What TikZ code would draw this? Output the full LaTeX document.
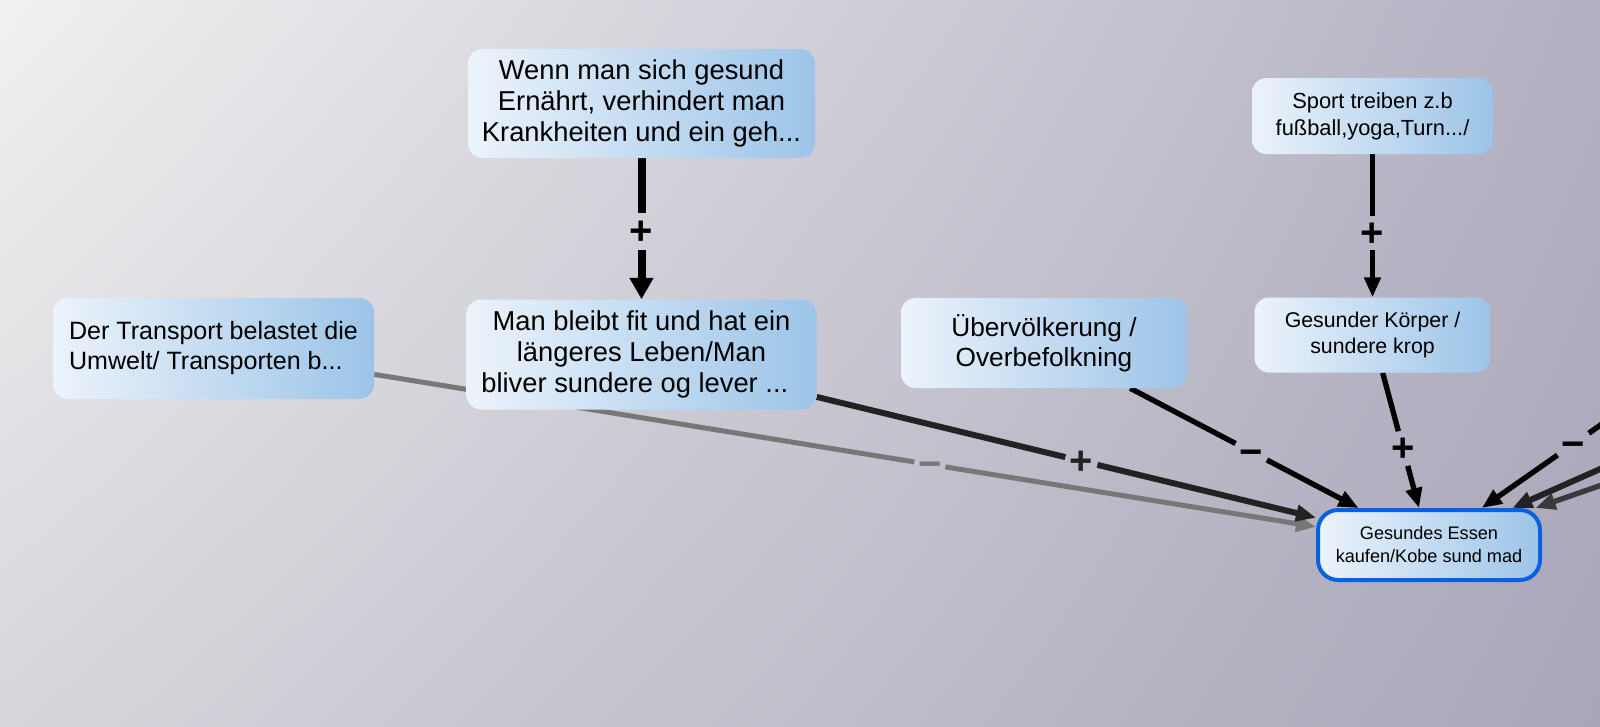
\documentclass[tikz,border=0pt]{standalone}
\usepackage{fontspec}
\setmainfont{Liberation Sans}
\usetikzlibrary{arrows.meta, positioning, backgrounds, shadings}
\definecolor{boxLight}{RGB}{236,243,251}
\definecolor{boxBlue}{RGB}{156,196,232}
\definecolor{focusBlue}{RGB}{8,96,226}
\definecolor{skyTL}{RGB}{241,241,241}
\definecolor{skyTR}{RGB}{178,176,194}
\definecolor{skyBL}{RGB}{214,214,220}
\definecolor{skyBR}{RGB}{168,166,184}
\definecolor{linkDark}{RGB}{34,34,34}
\definecolor{linkGray}{RGB}{119,119,119}
\definecolor{linkMid}{RGB}{58,58,58}

\pgfdeclarelayer{canvas}
\pgfsetlayers{canvas,background,main}

\begin{document}
\begin{tikzpicture}[
  x=0.75pt, y=-0.75pt,
  topic/.style 2 args={
    rectangle, rounded corners=11pt,
    left color=boxLight, right color=boxBlue,
    minimum width=#1*0.75pt, minimum height=#2*0.75pt,
    inner sep=0pt, align=center, text=black
  },
  signlabel/.style={font=\fontsize{30}{30}\selectfont\bfseries,
    text height=20pt, text depth=0pt, inner sep=1pt},
  >={Triangle[length=15pt, width=12pt]},
  boldlink/.style={line width=6pt, black,
    >={Triangle[length=16pt, width=17pt]}},
  blacklink/.style={line width=4pt, black},
  darklink/.style={line width=4.5pt, linkDark},
  graylink/.style={line width=3.75pt, linkGray},
  midlink/.style={line width=4pt, linkMid}
]
  \begin{pgfonlayer}{canvas}
    \shade[upper left=skyTL, upper right=skyTR,
      lower left=skyBL, lower right=skyBR] (0,0) rectangle (1600,726);
  \end{pgfonlayer}
  \useasboundingbox (0,0) rectangle (1600,726);

  \node[topic={347}{109}, font=\fontsize{20.5}{23.25}\selectfont]
    (wenn) at (641.5,103.5)
    {Wenn man sich gesund\\Ernährt, verhindert man\\Krankheiten und ein geh...};
  \node[topic={350}{110}, font=\fontsize{20.5}{23.25}\selectfont,
    below=105.75pt of wenn]
    (fit)
    {Man bleibt fit und hat ein\\längeres Leben/Man\\bliver sundere og lever ...\hspace*{10pt}};
  \node[topic={321}{101}, align=left, font=\fontsize{18.8}{22.5}\selectfont]
    (transport) at (213.5,348.5)
    {Der Transport belastet die\\Umwelt/ Transporten b...};
  \node[topic={286}{90}, font=\fontsize{19.7}{22.5}\selectfont]
    (ueber) at (1044,343)
    {Übervölkerung /\\Overbefolkning};
  \node[topic={241}{76}, font=\fontsize{16.4}{20.25}\selectfont]
    (sport) at (1372.5,116)
    {Sport treiben z.b\\fußball,yoga,Turn.../};
  \node[topic={236}{75}, font=\fontsize{16}{19.5}\selectfont,
    below=107.25pt of sport]
    (koerper)
    {Gesunder Körper /\\sundere krop};
  \node[topic={222}{70}, rounded corners=15pt, draw=focusBlue,
    line width=3pt, font=\fontsize{13.6}{17.25}\selectfont]
    (essen) at (1429,545)
    {Gesundes Essen\\kaufen/Kobe sund mad};

  % sources beyond the right edge
  \coordinate (farA) at (1672,375);
  \coordinate (farB) at (1643,450);
  \coordinate (farC) at (1671,461);

  % Links
  \begin{scope}[on background layer]
    \foreach \src/\dst/\where/\pol/\kind [count=\i] in {
        wenn/fit/.52/+/boldlink,
        sport/koerper/.55/+/blacklink,
        transport/essen/.59/−/graylink,
        fit/essen/.53/+/darklink,
        ueber/essen/.53/−/blacklink,
        koerper/essen/.56/+/blacklink,
        farA/essen/.52/−/blacklink} {
      \path[\kind] (\src) -- node[signlabel, pos=\where] (sign\i) {\pol} (\dst);
      \draw[\kind] (\src) -- (sign\i);
      \draw[\kind, ->] (sign\i) -- (\dst);
    }
    \draw[darklink, ->] (farB) -- (essen);
    \draw[midlink, ->] (farC) -- (essen);
  \end{scope}
\end{tikzpicture}
\end{document}
